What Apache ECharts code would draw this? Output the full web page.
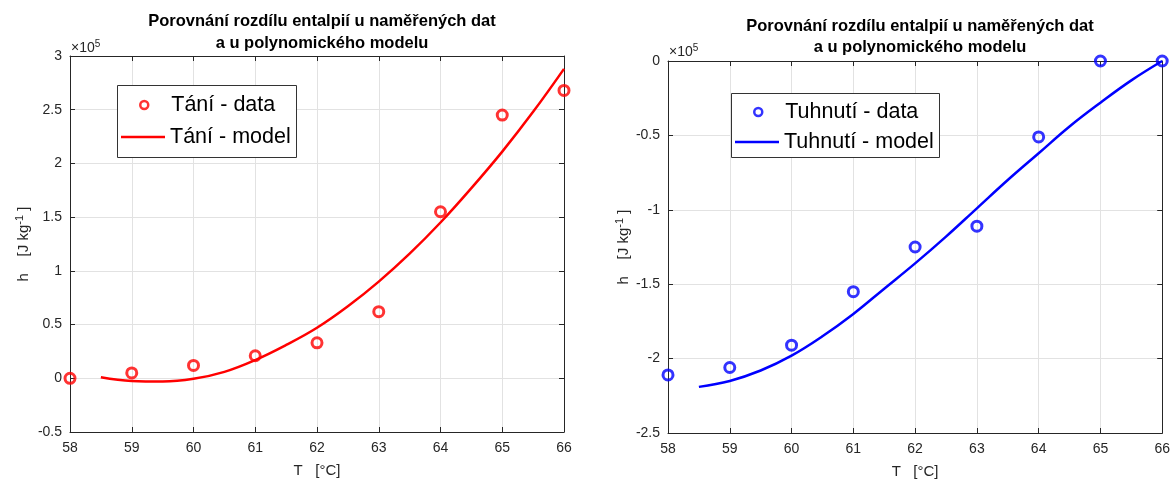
<!DOCTYPE html>
<html>
<head>
<meta charset="utf-8">
<script src="https://cdn.jsdelivr.net/npm/echarts@6/dist/echarts.min.js"></script>
<style>
  html, body { margin: 0; padding: 0; background: #fff; }
  #chart { width: 1173px; height: 484px; }
</style>
</head>
<body>
<div id="chart"></div>
<script>
// Temperatures (°C) of the measured points
const temps = [58, 59, 60, 61, 62, 63, 64, 65, 66];
// Enthalpy difference, melting, measured (×1e5 J/kg)
const meltData = [0, 0.05, 0.12, 0.21, 0.33, 0.62, 1.55, 2.45, 2.68];
// Enthalpy difference, solidification, measured (×1e5 J/kg)
const solidData = [-2.11, -2.06, -1.91, -1.55, -1.25, -1.11, -0.51, 0, 0];

// Polynomial model sampled along the temperature range
const modelT = [58.5, 59, 59.5, 60, 60.5, 61, 61.5, 62, 62.5, 63, 63.5, 64, 64.5, 65, 65.5, 66];
const meltModel = [0.01, -0.025, -0.03, -0.005, 0.06, 0.17, 0.31, 0.47, 0.67, 0.90, 1.16, 1.45, 1.77, 2.11, 2.48, 2.88];
const solidModel = [-2.19, -2.15, -2.08, -1.98, -1.85, -1.70, -1.53, -1.36, -1.18, -0.99, -0.80, -0.62, -0.44, -0.28, -0.13, 0.0];

const xTicks = { min: 58, max: 66, interval: 1 };
const meltY = { min: -0.5, max: 3, interval: 0.5 };
const solidY = { min: -2.5, max: 0, interval: 0.5 };

const titleText = 'Porovnání rozdílu entalpií u naměřených dat\na u polynomického modelu';
const FONT = 'Liberation Sans, Arial, sans-serif';
const AXIS_COLOR = '#262626';
const GRID_COLOR = '#e2e2e2';
const RED = '#ff0000';
const BLUE = '#0000ff';
const HOLLOW = 'rgba(255,255,255,0)';

const pairs = (xs, ys) => xs.map((x, i) => [x, ys[i]]);

function mainX(gridIndex) {
  return {
    type: 'value', gridIndex, min: xTicks.min, max: xTicks.max, interval: xTicks.interval,
    name: 'T   [°C]', nameLocation: 'middle', nameGap: 31,
    nameTextStyle: { fontFamily: FONT, fontSize: 15, color: AXIS_COLOR },
    axisLine: { show: true, onZero: false, lineStyle: { color: AXIS_COLOR, width: 1 } },
    axisTick: { show: true, inside: true, length: 5, lineStyle: { color: AXIS_COLOR } },
    axisLabel: { fontFamily: FONT, fontSize: 14, color: AXIS_COLOR, margin: 9 },
    splitLine: { show: true, lineStyle: { color: GRID_COLOR, width: 1 } }
  };
}
function topX(gridIndex) {
  return {
    type: 'value', gridIndex, position: 'top', min: xTicks.min, max: xTicks.max, interval: xTicks.interval,
    axisLine: { show: true, onZero: false, lineStyle: { color: AXIS_COLOR, width: 1 } },
    axisTick: { show: true, inside: true, length: 5, lineStyle: { color: AXIS_COLOR } },
    axisLabel: { show: false }, splitLine: { show: false }
  };
}
const yName = '{a|h    [J kg}{s|-1}{a| ]}';
const yNameStyle = {
  fontFamily: FONT, fontSize: 15, color: AXIS_COLOR,
  rich: {
    a: { fontFamily: FONT, fontSize: 15, color: AXIS_COLOR },
    s: { fontFamily: FONT, fontSize: 11, color: AXIS_COLOR, verticalAlign: 'top', padding: [0, 0, 8, 0] }
  }
};
function mainY(gridIndex, range, gap) {
  return {
    type: 'value', gridIndex, min: range.min, max: range.max, interval: range.interval,
    name: yName, nameLocation: 'middle', nameGap: gap, nameTextStyle: yNameStyle,
    axisLine: { show: true, onZero: false, lineStyle: { color: AXIS_COLOR, width: 1 } },
    axisTick: { show: true, inside: true, length: 5, lineStyle: { color: AXIS_COLOR } },
    axisLabel: { fontFamily: FONT, fontSize: 14, color: AXIS_COLOR, margin: 8 },
    splitLine: { show: true, lineStyle: { color: GRID_COLOR, width: 1 } }
  };
}
function rightY(gridIndex, range) {
  return {
    type: 'value', gridIndex, position: 'right', min: range.min, max: range.max, interval: range.interval,
    axisLine: { show: true, onZero: false, lineStyle: { color: AXIS_COLOR, width: 1 } },
    axisTick: { show: true, inside: true, length: 5, lineStyle: { color: AXIS_COLOR } },
    axisLabel: { show: false }, splitLine: { show: false }
  };
}

function scatterSeries(name, xi, yi, data, color) {
  return {
    name, type: 'scatter', xAxisIndex: xi, yAxisIndex: yi, data,
    symbol: 'circle', symbolSize: 10,
    itemStyle: { color: HOLLOW, borderColor: color, borderWidth: 3 },
    z: 5
  };
}
function lineSeries(name, xi, yi, data, color) {
  return {
    name, type: 'line', xAxisIndex: xi, yAxisIndex: yi, data,
    smooth: 0.4, showSymbol: false, symbol: 'none',
    lineStyle: { color, width: 2.5 }, itemStyle: { color },
    z: 4
  };
}

const legendText = { fontFamily: FONT, fontSize: 21.5, color: '#000' };
// Each chart's legend is two rows: the marker row and the line row.
// The marker row is placed by the circle's own left edge, which sits
// (itemWidth - itemHeight) / 2 to the right of the row origin.
const ICON_W = 44;
const MARK_H = 8;
const MARK_SHIFT = (ICON_W - MARK_H) / 2;
function markerLegend(left, top, name, color) {
  return {
    left: left + MARK_SHIFT, top, orient: 'vertical', padding: 0,
    data: [{ name, icon: 'circle', itemStyle: { color: HOLLOW, borderColor: color, borderWidth: 2.5 } }],
    itemWidth: ICON_W, itemHeight: MARK_H,
    textStyle: legendText
  };
}
function lineLegend(left, top, name, color) {
  return {
    left, top, orient: 'vertical', padding: 0,
    data: [{ name, icon: 'rect', itemStyle: { color, borderWidth: 0 } }],
    itemWidth: ICON_W, itemHeight: 2.5,
    textStyle: legendText
  };
}
function legendFrame(x, y, w, h) {
  return {
    type: 'rect', z: 3, silent: true,
    shape: { x: x + 0.5, y: y + 0.5, width: w, height: h },
    style: { fill: '#fff', stroke: '#333', lineWidth: 1 }
  };
}

function exponentLabel(x, y) {
  return {
    type: 'text', left: x, top: y, z: 10,
    style: {
      text: '{a|×10}{s|5}',
      rich: {
        a: { fontFamily: FONT, fontSize: 14, fill: AXIS_COLOR, color: AXIS_COLOR },
        s: { fontFamily: FONT, fontSize: 10, fill: AXIS_COLOR, color: AXIS_COLOR, verticalAlign: 'top', padding: [0, 0, 8, 0] }
      }
    }
  };
}

const titleStyle = { fontFamily: FONT, fontSize: 16.5, fontWeight: 'bold', color: '#000', lineHeight: 22 };

const option = {
  animation: false,
  backgroundColor: '#fff',
  title: [
    { text: titleText, left: 317, top: 5, textAlign: 'center', textStyle: titleStyle },
    { text: titleText, left: 915, top: 11, textAlign: 'center', textStyle: { ...titleStyle, lineHeight: 21 } }
  ],
  grid: [
    { left: 70, top: 56, width: 494, height: 376 },
    { left: 668, top: 61, width: 495, height: 377 }
  ],
  xAxis: [mainX(0), topX(0), mainX(1), topX(1)],
  yAxis: [mainY(0, meltY, 37), rightY(0, meltY), mainY(1, solidY, 35), rightY(1, solidY)],
  legend: [
    markerLegend(121, 94, 'Tání - data', RED),
    lineLegend(121, 126, 'Tání - model', RED),
    markerLegend(735, 101, 'Tuhnutí - data', BLUE),
    lineLegend(735, 131, 'Tuhnutí - model', BLUE)
  ],
  graphic: [
    legendFrame(117, 85, 179, 72),
    legendFrame(731, 93, 208, 64),
    exponentLabel(71, 39),
    exponentLabel(669, 43)
  ],
  series: [
    lineSeries('Tání - model', 0, 0, pairs(modelT, meltModel), RED),
    scatterSeries('Tání - data', 0, 0, pairs(temps, meltData), RED),
    lineSeries('Tuhnutí - model', 2, 2, pairs(modelT, solidModel), BLUE),
    scatterSeries('Tuhnutí - data', 2, 2, pairs(temps, solidData), BLUE)
  ]
};

const chart = echarts.init(document.getElementById('chart'), null, { renderer: 'canvas' });
chart.setOption(option);
</script>
</body>
</html>
